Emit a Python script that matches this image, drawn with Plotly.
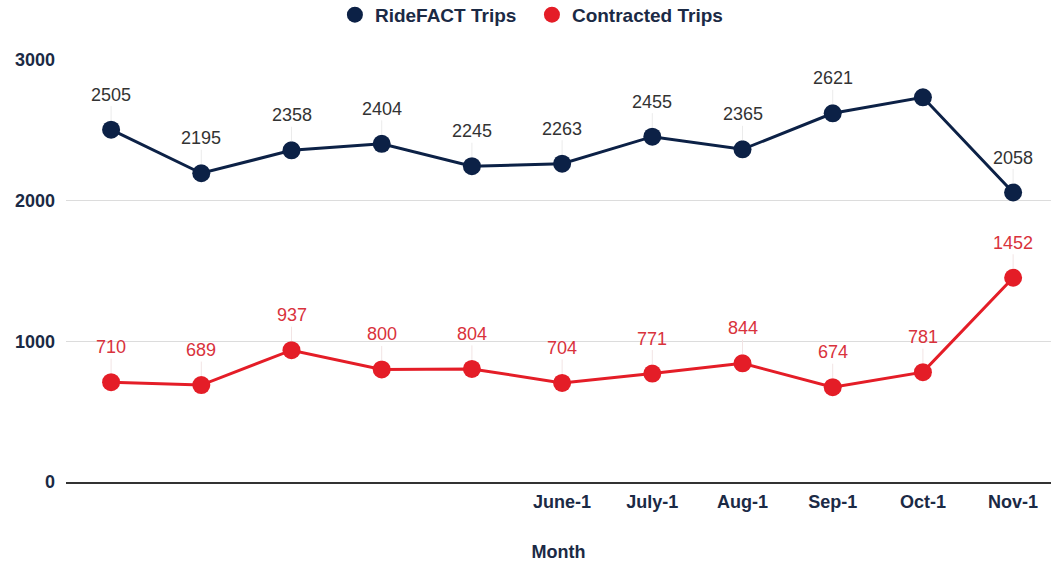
import plotly.graph_objects as go

months = ["Jan-1", "Feb-1", "Mar-1", "Apr-1", "May-1", "June-1", "July-1", "Aug-1", "Sep-1", "Oct-1", "Nov-1"]
tick_labels = ["", "", "", "", "", "June-1", "July-1", "Aug-1", "Sep-1", "Oct-1", "Nov-1"]
ridefact = [2505, 2195, 2358, 2404, 2245, 2263, 2455, 2365, 2621, 2735, 2058]
ridefact_labels = ["2505", "2195", "2358", "2404", "2245", "2263", "2455", "2365", "2621", "", "2058"]
contracted = [710, 689, 937, 800, 804, 704, 771, 844, 674, 781, 1452]
contracted_labels = ["710", "689", "937", "800", "804", "704", "771", "844", "674", "781", "1452"]

NAVY = "#0c2146"
RED = "#e41d27"
FONT = "Liberation Sans, Arial, sans-serif"
xs = list(range(len(months)))

fig = go.Figure()
fig.add_trace(go.Scatter(x=xs, y=ridefact, mode="lines+markers", name="RideFACT Trips",
                         line=dict(color=NAVY, width=3), marker=dict(size=18, color=NAVY),
                         showlegend=False, hoverinfo="skip"))
fig.add_trace(go.Scatter(x=xs, y=contracted, mode="lines+markers", name="Contracted Trips",
                         line=dict(color=RED, width=3), marker=dict(size=18, color=RED),
                         showlegend=False, hoverinfo="skip"))
# legend-only entries (circle symbols)
fig.add_trace(go.Scatter(x=[None], y=[None], mode="markers", name="RideFACT Trips\u00a0\u00a0",
                         marker=dict(size=20, color=NAVY)))
fig.add_trace(go.Scatter(x=[None], y=[None], mode="markers", name="Contracted Trips",
                         marker=dict(size=20, color=RED)))

annotations = []
for i, (v, t) in enumerate(zip(ridefact, ridefact_labels)):
    if t:
        annotations.append(dict(x=xs[i], y=v, text=t, showarrow=True, arrowhead=0, arrowwidth=1,
                                arrowcolor="#ebebeb", ax=0, ay=-35, standoff=9,
                                font=dict(family=FONT, size=18, color="#333333")))
for i, (v, t) in enumerate(zip(contracted, contracted_labels)):
    if t:
        annotations.append(dict(x=xs[i], y=v, text=t, showarrow=True, arrowhead=0, arrowwidth=1,
                                arrowcolor="#f2e4e4", ax=0, ay=-35, standoff=9,
                                font=dict(family=FONT, size=18, color="#d9323c")))

fig.update_layout(
    width=1051, height=562,
    margin=dict(l=66, r=0, t=60, b=80, autoexpand=False),
    plot_bgcolor="white", paper_bgcolor="white",
    font=dict(family=FONT, color="#1b2a45"),
    showlegend=True,
    legend=dict(orientation="h", x=0.473, xanchor="center", y=1.107, yanchor="middle",
                font=dict(family=FONT, size=19, color="#1b2a45", weight="bold"),
                itemsizing="trace", traceorder="normal", itemwidth=30),
    annotations=annotations,
    xaxis=dict(range=[-0.5, 10.42], tickmode="array", tickvals=xs, ticktext=tick_labels,
               showgrid=False, showline=True, linecolor="#333333", linewidth=1.5,
               ticks="", automargin=False, ticklabelstandoff=3,
               tickfont=dict(family=FONT, size=18, color="#1b2a45", weight="bold"),
               title=dict(text="Month", font=dict(family=FONT, size=18, color="#1b2a45", weight="bold"),
                          standoff=34),
               zeroline=False),
    yaxis=dict(range=[0, 3000], tickvals=[0, 1000, 2000, 3000], showgrid=True, gridcolor="#dcdcdc",
               gridwidth=1, zeroline=False, showline=False, ticks="", ticklabelstandoff=10,
               automargin=False,
               tickfont=dict(family=FONT, size=18, color="#1b2a45", weight="bold")),
)

fig.write_html("out.html", config={"displayModeBar": False},
               post_script="document.body.style.margin='0';document.body.style.overflow='hidden';")
